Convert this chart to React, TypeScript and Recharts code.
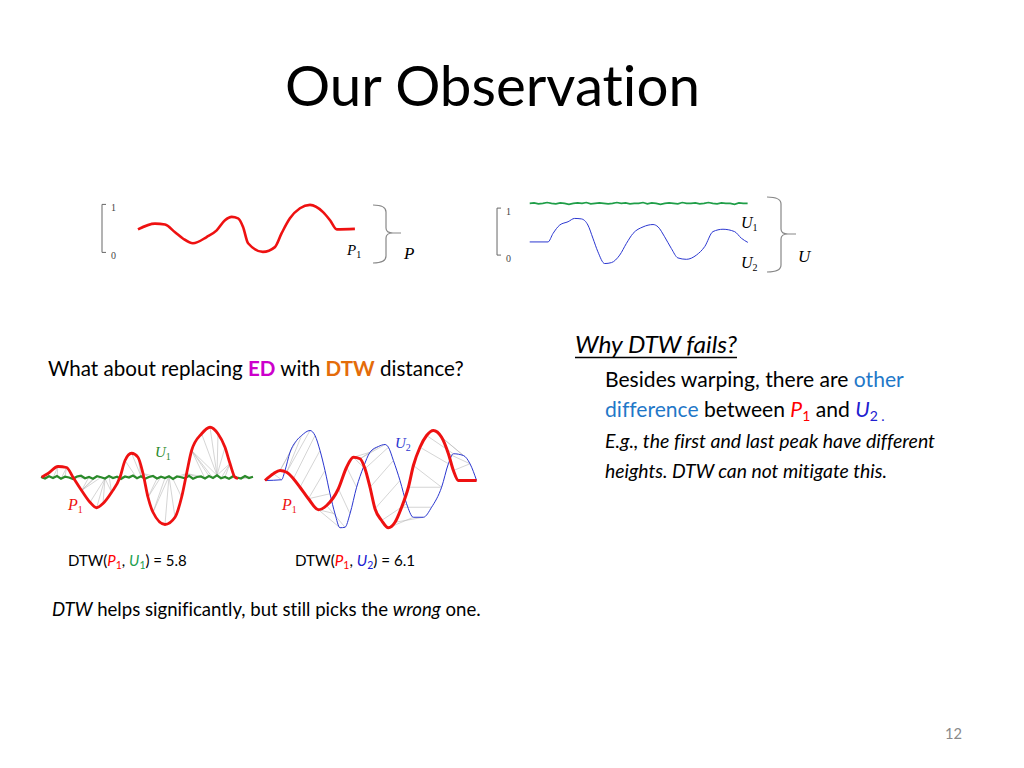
import React from 'react';
import { LineChart, Line, XAxis, YAxis, ReferenceLine } from 'recharts';

const SANS = 'Lato, "Open Sans", "Noto Sans", sans-serif';
const SERIF = '"Liberation Serif", "DejaVu Serif", serif';

// ---------- top-left panel: P1 ----------
const p1TopT = [0, 7.8, 12.4, 17, 20.6, 25.2, 31.5, 36.1, 39.9, 43, 45.9, 48.2, 50.5, 57.3, 62.8, 65.9, 69.7, 74.3, 78.9, 84.9, 88.1, 91.2, 99.5];
const p1TopV = [0.48, 0.6, 0.58, 0.42, 0.29, 0.19, 0.32, 0.46, 0.67, 0.74, 0.71, 0.53, 0.19, 0.01, 0.11, 0.4, 0.71, 0.92, 0.99, 0.84, 0.67, 0.48, 0.49];

// ---------- top-right panel: U1 (flat noisy) and U2 ----------
const u1TopV = [1.10, 1.11, 1.09, 1.10, 1.12, 1.10, 1.09, 1.11, 1.10, 1.08, 1.10, 1.11, 1.10, 1.12, 1.09, 1.10, 1.11, 1.10, 1.09, 1.10, 1.12, 1.10, 1.11, 1.09, 1.10, 1.10, 1.12, 1.09, 1.11, 1.10, 1.08, 1.10, 1.11, 1.10, 1.09, 1.12, 1.10, 1.10, 1.11, 1.09, 1.10, 1.12, 1.10, 1.09, 1.11, 1.10, 1.10, 1.08, 1.11, 1.10, 1.10];
const u2TopT = [0, 8.4, 10.7, 13.8, 17.6, 20.6, 23.7, 26.7, 29, 31.3, 34.4, 37.5, 41.3, 44.4, 47.4, 52, 56.6, 58.9, 61.9, 65, 68, 71.9, 76.5, 80.3, 84.1, 88.7, 94, 97.1, 100.1];
const u2TopV = [0.28, 0.28, 0.46, 0.64, 0.71, 0.78, 0.77, 0.64, 0.36, 0.07, -0.18, -0.16, 0.0, 0.25, 0.46, 0.6, 0.65, 0.6, 0.39, 0.14, -0.06, -0.09, 0.0, 0.18, 0.5, 0.55, 0.5, 0.36, 0.27];

// ---------- bottom-left panel: P1 vs U1 with DTW warping ----------
const p1LT = [0.3, 3.5, 8.5, 12.8, 16, 20.3, 24.5, 27.8, 31, 35.3, 39.5, 42, 45.3, 48.5, 51, 53.5, 56, 62, 67, 70.3, 72.8, 75.3, 80.3, 84.5, 88.5, 92, 94.5, 97, 98.5];
const p1LV = [0.01, 0.16, 0.44, 0.4, 0.01, -0.52, -0.99, -1.21, -1.04, -0.59, 0.01, 0.68, 0.97, 0.81, 0.16, -0.79, -1.39, -1.88, -1.59, -0.79, 0.16, 1.08, 1.75, 2.01, 1.75, 1.21, 0.56, 0.01, -0.04];
const u1BotV = [0.02, -0.04, 0.05, -0.02, 0.06, -0.05, 0.03, 0.0, -0.06, 0.04, 0.07, -0.03, 0.02, -0.05, 0.05, 0.01, -0.04, 0.06, -0.02, 0.03, -0.06, 0.04, 0.0, 0.08, -0.03, 0.05, -0.05, 0.02, 0.06, -0.04, 0.03, -0.02, 0.05, -0.06, 0.04, 0.01, -0.03, 0.07, -0.05, 0.02, 0.04, -0.04, 0.06, -0.02, 0.09, -0.03, 0.02, -0.05, 0.05, 0.0, -0.04, 0.06, -0.02, 0.03];
const linksL: [number, number][] = [
  [0, 0], [1, 1], [1, 2], [2, 3], [2, 4], [3, 5], [3, 6], [4, 7], [4, 8], [4, 9], [4, 10], [4, 11], [5, 12], [5, 13], [5, 14], [5, 15],
  [6, 16], [7, 16], [8, 16], [9, 16], [9, 17], [10, 18], [10, 19], [10, 20], [10, 21], [10, 22], [10, 23], [11, 24], [12, 25], [13, 25],
  [14, 26], [14, 27], [14, 28], [15, 29], [15, 30], [16, 31], [16, 32], [17, 32], [18, 32], [19, 33], [20, 34], [20, 35], [20, 36], [20, 37],
  [20, 38], [20, 39], [20, 40], [21, 41], [21, 42], [21, 43], [21, 44], [22, 44], [23, 44], [24, 44], [25, 44], [26, 44], [26, 45], [26, 46],
  [27, 47], [27, 48], [27, 49], [28, 50], [28, 51], [28, 52], [28, 53],
];

// ---------- bottom-right panel: P1 vs U2 with DTW warping ----------
const p1RT = [0, 4.2, 7.5, 10.8, 14.2, 17.5, 21.7, 26.7, 30.8, 36.7, 40.8, 44.2, 47.5, 50, 52.5, 55, 58.3, 61.7, 65, 68.3, 71.7, 74.2, 77.5, 80.8, 84.2, 88.3, 91.7, 94.2, 96.7, 105.8];
const p1RV = [0, 0.27, 0.4, 0.33, 0.07, -0.27, -0.73, -1.17, -1.0, -0.33, 0.53, 0.93, 0.87, 0.47, -0.27, -1.13, -1.6, -1.89, -1.67, -1.07, -0.27, 0.6, 1.33, 1.8, 2.0, 1.73, 1.07, 0.4, 0, 0];
const u2BotT = [0, 8.3, 10, 12.5, 15.8, 18.3, 22.5, 25, 27.5, 30, 32.5, 35, 37.5, 40, 42.5, 45.8, 49.2, 52.5, 56.7, 60, 61.7, 64.2, 67.5, 70.8, 74.2, 79.2, 83.3, 88.3, 91.7, 94.2, 99.2, 102.5, 105.8];
const u2BotV = [0, 0.03, 0.4, 1.13, 1.6, 1.8, 2.0, 1.8, 1.2, 0.4, -0.53, -1.33, -1.89, -1.87, -1.33, -0.27, 0.53, 1.13, 1.36, 1.44, 1.33, 0.8, 0, -0.93, -1.47, -1.47, -1.07, -0.27, 0.67, 1.07, 1.0, 0.67, 0];
const linksR: [number, number][] = [
  [0, 0], [1, 1], [2, 2], [2, 3], [2, 4], [3, 5], [3, 6], [4, 7], [5, 8], [6, 9], [6, 10], [7, 11], [7, 12], [8, 13], [9, 14],
  [10, 15], [11, 16], [11, 17], [12, 18], [12, 19], [13, 20], [14, 21], [15, 22], [16, 23], [17, 24], [18, 25], [19, 26], [20, 27],
  [21, 27], [22, 28], [23, 29], [24, 30], [25, 30], [26, 31], [27, 31], [28, 32], [29, 32],
];

// bracket tick values shown at the left of the two top panels
const bracketTicks = [0, 1];

type Pt = { t: number; v: number };
const zip = (t: number[], v: number[]): Pt[] => t.map((tt, i) => ({ t: tt, v: v[i] }));
const even = (v: number[]): Pt[] => v.map((vv, i) => ({ t: i * 2, v: vv }));

const P1_TOP = zip(p1TopT, p1TopV);
const U1_TOP = even(u1TopV);
const U2_TOP = zip(u2TopT, u2TopV);
const P1_L = zip(p1LT, p1LV);
const U1_BOT = even(u1BotV);
const P1_R = zip(p1RT, p1RV);
const U2_BOT = zip(u2BotT, u2BotV);

type Series = { key: string; data: Pt[]; color: string; width: number; curve: 'monotone' | 'linear' };

type PanelProps = {
  left: number; top: number; width: number; height: number;
  xDomain: [number, number]; yDomain: [number, number];
  series: Series[];
  links?: [Pt, Pt][];
  bracket?: boolean;
};

function Panel({ left, top, width, height, xDomain, yDomain, series, links, bracket }: PanelProps) {
  const pad = 8;
  const x0 = xDomain[0];
  const tickLen = (4 / width) * (xDomain[1] - xDomain[0]);
  return (
    <div style={{ position: 'absolute', left: left - pad, top: top - pad }}>
      <LineChart width={width + 2 * pad} height={height + 2 * pad} margin={{ top: pad, right: pad, bottom: pad, left: pad }}>
        <XAxis type="number" dataKey="t" domain={xDomain} hide />
        <YAxis type="number" domain={yDomain} hide />
        {bracket && (
          <ReferenceLine segment={[{ x: x0, y: 0 }, { x: x0, y: 1 }]} stroke="#666" strokeWidth={1} ifOverflow="visible" />
        )}
        {bracket &&
          bracketTicks.map((b) => (
            <ReferenceLine
              key={'b' + b}
              segment={[{ x: x0, y: b }, { x: x0 + tickLen, y: b }]}
              stroke="#666"
              strokeWidth={1}
              ifOverflow="visible"
              label={{ value: String(b), position: 'right', offset: 5, fontSize: 10, fill: '#444', fontFamily: SERIF, dy: 3 }}
            />
          ))}
        {(links || []).map(([a, b], i) => (
          <ReferenceLine
            key={'l' + i}
            segment={[{ x: a.t, y: a.v }, { x: b.t, y: b.v }]}
            stroke="#b8b8b8"
            strokeWidth={0.6}
            ifOverflow="visible"
          />
        ))}
        {series.map((s) => (
          <Line
            key={s.key}
            data={s.data}
            dataKey="v"
            type={s.curve}
            stroke={s.color}
            strokeWidth={s.width}
            dot={false}
            activeDot={false}
            isAnimationActive={false}
          />
        ))}
      </LineChart>
    </div>
  );
}

const linkPts = (links: [number, number][], a: Pt[], b: Pt[]): [Pt, Pt][] => links.map(([i, j]) => [a[i], b[j]]);

const RED = '#ee1111';
const GREEN_TOP = '#1f9e48';
const GREEN_BOT = '#2a8a2a';
const BLUE_LINE = '#2a36d0';
const noLig: React.CSSProperties = { fontVariantLigatures: 'none', fontKerning: 'normal' };

export default function App() {
  return (
    <div style={{ position: 'absolute', left: 0, top: 0, width: 1024, height: 768, background: '#ffffff', overflow: 'hidden' }}>
      <Panel
        left={102} top={189.6} width={254} height={76.8}
        xDomain={[-16.5, 100]} yDomain={[-0.3, 1.3]} bracket
        series={[{ key: 'p1', data: P1_TOP, color: RED, width: 2.6, curve: 'monotone' }]}
      />
      <Panel
        left={497.3} top={193.9} width={255} height={75.2}
        xDomain={[-15, 102]} yDomain={[-0.3, 1.3]} bracket
        series={[
          { key: 'u1', data: U1_TOP, color: GREEN_TOP, width: 1.6, curve: 'linear' },
          { key: 'u2', data: U2_TOP, color: BLUE_LINE, width: 1, curve: 'monotone' },
        ]}
      />
      <Panel
        left={41} top={419.5} width={214} height={112.5}
        xDomain={[0, 107]} yDomain={[-2.2, 2.3]}
        links={linkPts(linksL, P1_L, U1_BOT)}
        series={[
          { key: 'u1', data: U1_BOT, color: GREEN_BOT, width: 2.2, curve: 'linear' },
          { key: 'p1', data: P1_L, color: RED, width: 2.8, curve: 'monotone' },
        ]}
      />
      <Panel
        left={265} top={422.5} width={212} height={112.5}
        xDomain={[0, 106]} yDomain={[-2.2, 2.3]}
        links={linkPts(linksR, P1_R, U2_BOT)}
        series={[
          { key: 'u2', data: U2_BOT, color: BLUE_LINE, width: 1, curve: 'monotone' },
          { key: 'p1', data: P1_R, color: RED, width: 3, curve: 'monotone' },
        ]}
      />

      <svg width={1024} height={768} style={{ position: 'absolute', left: 0, top: 0, pointerEvents: 'none', ...noLig }}>
        {/* title */}
        <text x={285} y={106} fontFamily={SANS} fontSize={57} fill="#000" textLength={415} lengthAdjust="spacingAndGlyphs">
          Our Observation
        </text>

        {/* braces */}
        <path d="M373,205 Q386,205 386,212 L386,228 Q386,233 393,233 L401,233 M393,233 Q386,233 386,238 L386,256 Q386,263 373,263" fill="none" stroke="#888" strokeWidth={1.2} />
        <path d="M767,197 Q781,197 781,204 L781,229 Q781,234 788,234 L796,234 M788,234 Q781,234 781,239 L781,265 Q781,272 767,272" fill="none" stroke="#888" strokeWidth={1.2} />

        {/* serif series labels, top */}
        <text x={347} y={255} fontFamily={SERIF} fontSize={15} fontStyle="italic" fill="#000">
          P<tspan fontSize={10} fontStyle="normal" dy={3}>1</tspan>
        </text>
        <text x={404} y={259} fontFamily={SERIF} fontSize={17} fontStyle="italic" fill="#000">P</text>
        <text x={741} y={228} fontFamily={SERIF} fontSize={16} fontStyle="italic" fill="#000">
          U<tspan fontSize={10} fontStyle="normal" dy={3}>1</tspan>
        </text>
        <text x={741} y={268} fontFamily={SERIF} fontSize={16} fontStyle="italic" fill="#000">
          U<tspan fontSize={10} fontStyle="normal" dy={3}>2</tspan>
        </text>
        <text x={798} y={262} fontFamily={SERIF} fontSize={17} fontStyle="italic" fill="#000">U</text>

        {/* serif series labels, bottom */}
        <text x={155} y={457} fontFamily={SERIF} fontSize={15} fontStyle="italic" fill={GREEN_BOT}>
          U<tspan fontSize={10} fontStyle="normal" dy={3}>1</tspan>
        </text>
        <text x={68} y={510} fontFamily={SERIF} fontSize={16} fontStyle="italic" fill={RED}>
          P<tspan fontSize={10} fontStyle="normal" dy={3}>1</tspan>
        </text>
        <text x={395} y={448} fontFamily={SERIF} fontSize={15} fontStyle="italic" fill={BLUE_LINE}>
          U<tspan fontSize={10} fontStyle="normal" dy={3}>2</tspan>
        </text>
        <text x={282} y={510} fontFamily={SERIF} fontSize={16} fontStyle="italic" fill={RED}>
          P<tspan fontSize={10} fontStyle="normal" dy={3}>1</tspan>
        </text>

        {/* left question */}
        <text x={48} y={376} fontFamily={SANS} fontSize={20.6} fill="#000">
          What about replacing <tspan fill="#cc00cc" fontWeight="bold">ED</tspan> with{' '}
          <tspan fill="#e46c0a" fontWeight="bold">DTW</tspan> distance?
        </text>

        {/* right block */}
        <text x={575} y={353} fontFamily={SANS} fontSize={23} fontStyle="italic" fill="#000" textLength={162} lengthAdjust="spacingAndGlyphs">
          Why DTW fails?
        </text>
        <line x1={575} y1={357.5} x2={737} y2={357.5} stroke="#000" strokeWidth={1.3} />
        <text x={605} y={387} fontFamily={SANS} fontSize={21.1} fill="#000">
          Besides warping, there are <tspan fill="#1f78c8">other</tspan>
        </text>
        <text x={605} y={417} fontFamily={SANS} fontSize={21.1} fill="#000">
          <tspan fill="#1f78c8">difference</tspan> between <tspan fill="#ff0000" fontStyle="italic">P</tspan>
          <tspan fill="#ff0000" fontSize={14} dy={4}>1</tspan>
          <tspan dy={-4}> and </tspan>
          <tspan fill="#2020d0" fontStyle="italic">U</tspan>
          <tspan fill="#2020d0" fontSize={14} dy={4}>2 .</tspan>
        </text>
        <text x={605} y={448} fontFamily={SANS} fontSize={19} fontStyle="italic" fill="#000" textLength={330} lengthAdjust="spacingAndGlyphs">
          E.g., the first and last peak have different
        </text>
        <text x={605} y={478} fontFamily={SANS} fontSize={19} fontStyle="italic" fill="#000" textLength={282} lengthAdjust="spacingAndGlyphs">
          heights. DTW can not mitigate this.
        </text>

        {/* DTW values */}
        <text x={68} y={566} fontFamily={SANS} fontSize={15} fill="#000">
          DTW(<tspan fill="#ff0000" fontStyle="italic">P</tspan>
          <tspan fill="#ff0000" fontSize={10.5} dy={3}>1</tspan>
          <tspan dy={-3}>, </tspan>
          <tspan fill="#22a050" fontStyle="italic">U</tspan>
          <tspan fill="#22a050" fontSize={10.5} dy={3}>1</tspan>
          <tspan dy={-3}>) = 5.8</tspan>
        </text>
        <text x={295} y={566} fontFamily={SANS} fontSize={15.2} fill="#000">
          DTW(<tspan fill="#ff0000" fontStyle="italic">P</tspan>
          <tspan fill="#ff0000" fontSize={10.5} dy={3}>1</tspan>
          <tspan dy={-3}>, </tspan>
          <tspan fill="#2020d0" fontStyle="italic">U</tspan>
          <tspan fill="#2020d0" fontSize={10.5} dy={3}>2</tspan>
          <tspan dy={-3}>) = 6.1</tspan>
        </text>

        <text x={52} y={616} fontFamily={SANS} fontSize={18.6} fill="#000">
          <tspan fontStyle="italic">DTW</tspan> helps significantly, but still picks the <tspan fontStyle="italic">wrong</tspan> one.
        </text>

        <text x={945} y={739} fontFamily={SANS} fontSize={16} fill="#8a8a8a" textLength={17} lengthAdjust="spacingAndGlyphs">
          12
        </text>
      </svg>
    </div>
  );
}
